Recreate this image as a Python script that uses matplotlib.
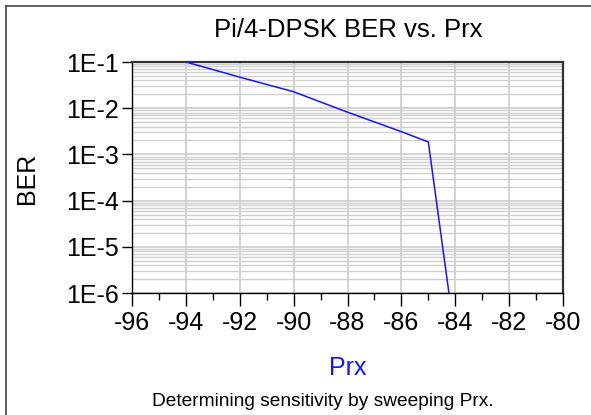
import matplotlib
matplotlib.use("Agg")
import matplotlib.pyplot as plt
from matplotlib.lines import Line2D
from matplotlib.ticker import LogLocator, MultipleLocator, NullFormatter

plt.rcParams['font.family'] = ['Liberation Sans', 'DejaVu Sans']

prx = [-94, -92, -90, -88, -86, -85, -84]
ber = [0.1, 0.047, 0.0227, 0.0082, 0.0031, 0.00186, 1.0e-7]

ytick_vals = [1e-6, 1e-5, 1e-4, 1e-3, 1e-2, 1e-1]
ytick_labels = ["1E-6", "1E-5", "1E-4", "1E-3", "1E-2", "1E-1"]
xtick_vals = [-96, -94, -92, -90, -88, -86, -84, -82, -80]
xtick_labels = ["-96", "-94", "-92", "-90", "-88", "-86", "-84", "-82", "-80"]

W, H = 591, 415
fig = plt.figure(figsize=(W / 100, H / 100), dpi=100)
ax = fig.add_axes([132 / W, 1 - 293 / H, (563 - 132) / W, (293 - 62) / H])

ax.set_yscale('log')
ax.set_xlim(-96, -80)
ax.set_ylim(1e-6, 1e-1)

ax.plot(prx, ber, color='#1414ff', lw=1.1, clip_on=True, zorder=3)

ax.set_yticks(ytick_vals)
ax.set_yticklabels(ytick_labels)
ax.yaxis.set_minor_locator(LogLocator(base=10, subs=range(2, 10), numticks=20))
ax.yaxis.set_minor_formatter(NullFormatter())
ax.set_xticks(xtick_vals)
ax.set_xticklabels(xtick_labels)
ax.xaxis.set_minor_locator(MultipleLocator(1))

ax.grid(True, which='major', color='#c8c8c8', lw=1.1, zorder=0)
ax.grid(True, which='minor', axis='y', color='#d0d0d0', lw=1.0, zorder=0)
ax.set_axisbelow(True)

ax.tick_params(axis='y', which='major', direction='out', length=7.5, width=1.0,
               color='black', labelsize=18, pad=2)
ax.tick_params(axis='x', which='major', direction='out', length=9, width=1.0,
               color='black', labelsize=18, pad=4)
ax.tick_params(axis='x', which='minor', direction='out', length=5, width=1.0)
ax.tick_params(axis='y', which='minor', length=0)

for s in ['left', 'bottom']:
    ax.spines[s].set_color('black')
    ax.spines[s].set_linewidth(1.0)
for s in ['top', 'right']:
    ax.spines[s].set_color('#333333')
    ax.spines[s].set_linewidth(1.6)

fig.text(348 / W, 1 - 30 / H, "Pi/4-DPSK BER vs. Prx", ha='center', va='center', fontsize=18.5)
fig.text(27 / W, 1 - 178 / H, "BER", ha='center', va='center', rotation=90, fontsize=18)
fig.text(348 / W, 1 - 368 / H, "Prx", ha='center', va='center', fontsize=18, color='#1414ff')
fig.text(323 / W, 1 - 401 / H, "Determining sensitivity by sweeping Prx.", ha='center', va='center', fontsize=13.8)

# outer frame (only top and left visible)
fig.add_artist(Line2D([5.5 / W, 1.0], [1 - 6 / H, 1 - 6 / H], color='#444444', lw=1.2))
fig.add_artist(Line2D([5.5 / W, 5.5 / W], [1 - 6 / H, 0.0], color='#444444', lw=1.2))

fig.savefig("out.png", dpi=100)
